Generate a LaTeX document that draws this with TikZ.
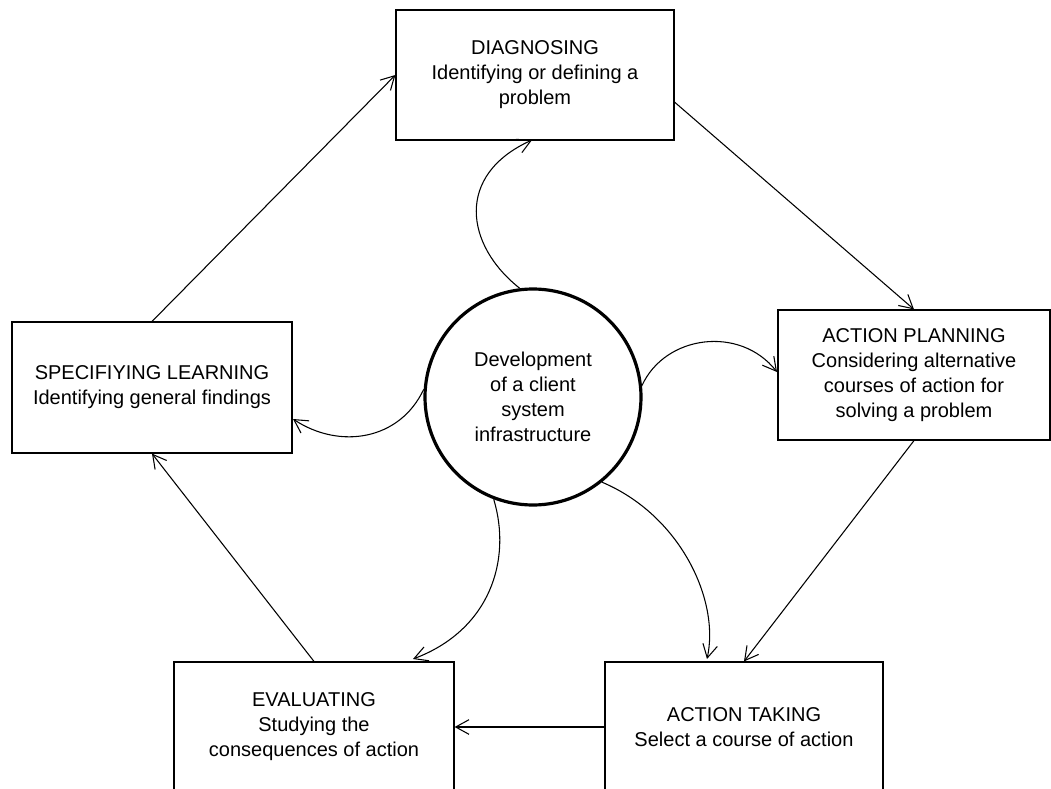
\documentclass[tikz,border=0pt]{standalone}
\usepackage{fontspec}
\setmainfont{Liberation Sans}
\usetikzlibrary{arrows.meta}
\begin{document}
\begin{tikzpicture}[x=0.75pt,y=-0.75pt,
  box/.style={draw, line width=0.9pt, align=center, inner sep=0pt,
    font=\fontsize{15}{18.75}\selectfont},
  hub/.style={draw, circle, line width=2.4pt, align=center, inner sep=0pt,
    minimum size=162pt, font=\fontsize{15}{18.75}\selectfont},
  arr/.style={line width=0.8pt, -{Straight Barb[length=10pt,width=11pt]}},
]
\useasboundingbox (0,0) rectangle (1051,789);

\node[box, minimum width=208.5pt, minimum height=97.5pt] (diag) at (535,75)
  {DIAGNOSING\\Identifying or defining a\\problem};
\node[box, minimum width=204pt, minimum height=97.5pt] (plan) at (914,375)
  {ACTION PLANNING\\Considering alternative\\courses of action for\\solving a problem};
\node[box, minimum width=210pt, minimum height=98.25pt] (spec) at (152,387.5)
  {SPECIFIYING LEARNING\\Identifying general findings};
\node[box, minimum width=210pt, minimum height=97.5pt] (eval) at (314,727)
  {EVALUATING\\Studying the\\consequences of action};
\node[box, minimum width=208.5pt, minimum height=97.5pt] (take) at (744,727)
  {ACTION TAKING\\Select a course of action};
\node[hub] (c) at (533,397) {Development\\of a client\\system\\infrastructure};

\coordinate (dtip) at (532,140);
\coordinate (ptip) at (777,372);
\coordinate (stip) at (293,419);
\coordinate (etip) at (413,659);
\coordinate (ttip) at (707,659);

% outer cycle
\draw[arr] (spec.north) -- (diag.west);
\draw[arr] (diag.-11) -- (plan.north);
\draw[arr] (plan.south) -- (take.north);
\draw[arr] (take.west) -- (eval.east);
\draw[arr] (eval.north) -- (spec.south);

% from the hub
\draw[arr] (c.97) .. controls (465,245) and (455,175) .. (dtip);
\draw[arr] (c.6) .. controls (665,335) and (740,325) .. (ptip);
\draw[arr] (c.176) .. controls (400,440) and (340,450) .. (stip);
\draw[arr] (c.249) .. controls (512,560) and (490,630) .. (etip);
\draw[arr] (c.309) .. controls (680,515) and (720,600) .. (ttip);
\end{tikzpicture}
\end{document}
